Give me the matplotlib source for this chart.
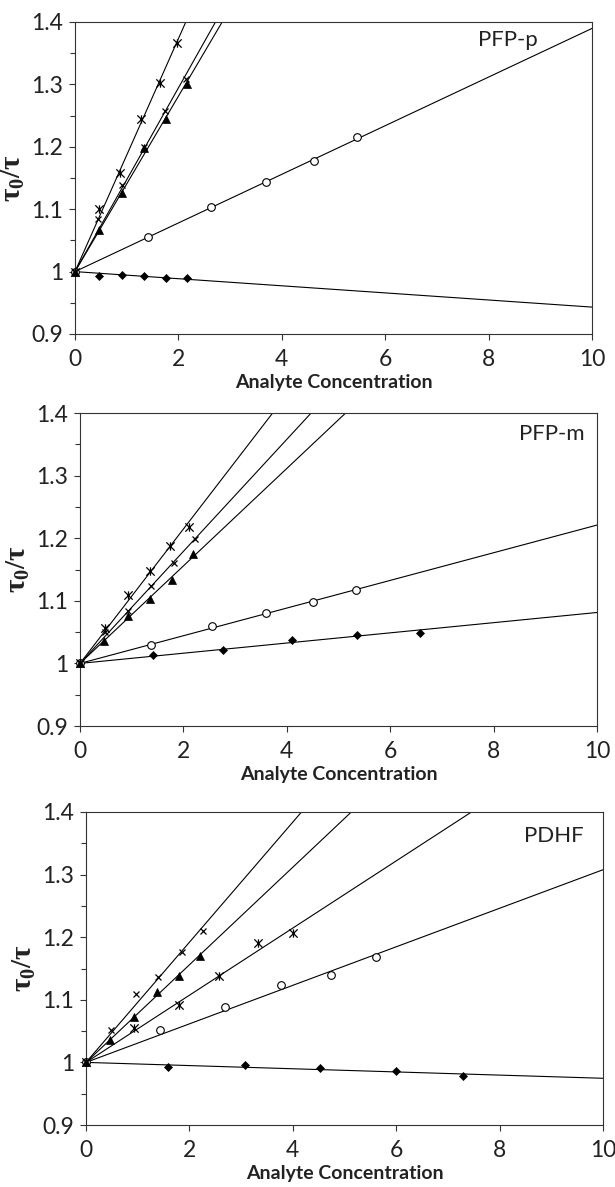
import numpy as np
import matplotlib.pyplot as plt
from matplotlib.path import Path
from matplotlib.ticker import MultipleLocator, FuncFormatter

plt.rcParams['font.family'] = ['Lato', 'DejaVu Sans']
plt.rcParams['mathtext.fontset'] = 'custom'
plt.rcParams['mathtext.rm'] = 'Liberation Serif'
plt.rcParams['mathtext.bf'] = 'Liberation Serif:bold'

# ---- data (x = analyte concentration, y = tau0/tau)
# PFP-p
pfpp_diamond_x = [0, 0.47, 0.91, 1.34, 1.76, 2.16]
pfpp_diamond_y = [1, 0.993, 0.995, 0.993, 0.989, 0.989]
pfpp_circle_x = [0, 1.41, 2.63, 3.69, 4.62, 5.45]
pfpp_circle_y = [1, 1.056, 1.103, 1.143, 1.177, 1.215]
pfpp_triangle_x = [0, 0.47, 0.91, 1.34, 1.76, 2.16]
pfpp_triangle_y = [1, 1.066, 1.126, 1.198, 1.244, 1.301]
pfpp_cross_x = [0, 0.45, 0.91, 1.34, 1.75, 2.15]
pfpp_cross_y = [1, 1.084, 1.138, 1.200, 1.258, 1.309]
pfpp_star_x = [0, 0.47, 0.87, 1.27, 1.64, 1.98]
pfpp_star_y = [1, 1.100, 1.158, 1.245, 1.303, 1.366]

# PFP-m
pfpm_diamond_x = [0, 1.42, 2.77, 4.10, 5.36, 6.58]
pfpm_diamond_y = [1, 1.013, 1.021, 1.038, 1.046, 1.049]
pfpm_circle_x = [0, 1.37, 2.56, 3.60, 4.51, 5.34]
pfpm_circle_y = [1, 1.030, 1.059, 1.080, 1.098, 1.118]
pfpm_triangle_x = [0, 0.47, 0.92, 1.35, 1.78, 2.19]
pfpm_triangle_y = [1, 1.036, 1.075, 1.103, 1.133, 1.175]
pfpm_cross_x = [0, 0.48, 0.93, 1.37, 1.82, 2.22]
pfpm_cross_y = [1, 1.050, 1.084, 1.123, 1.161, 1.198]
pfpm_star_x = [0, 0.48, 0.93, 1.35, 1.75, 2.10]
pfpm_star_y = [1, 1.057, 1.109, 1.148, 1.188, 1.218]

# PDHF
pdhf_diamond_x = [0, 1.59, 3.08, 4.53, 5.99, 7.29]
pdhf_diamond_y = [1, 0.993, 0.996, 0.991, 0.986, 0.978]
pdhf_circle_x = [0, 1.44, 2.69, 3.77, 4.74, 5.61]
pdhf_circle_y = [1, 1.052, 1.089, 1.123, 1.140, 1.168]
pdhf_triangle_x = [0, 0.46, 0.93, 1.37, 1.79, 2.21]
pdhf_triangle_y = [1, 1.036, 1.073, 1.112, 1.138, 1.170]
pdhf_cross_x = [0, 0.48, 0.97, 1.40, 1.85, 2.27]
pdhf_cross_y = [1, 1.052, 1.109, 1.136, 1.176, 1.210]
pdhf_star_x = [0, 0.93, 1.79, 2.58, 3.33, 4.01]
pdhf_star_y = [1, 1.055, 1.091, 1.138, 1.190, 1.207]

panel_names = ['PFP-p', 'PFP-m', 'PDHF']

# excel style "star" marker: an x with a vertical bar through it
star = Path([(-1, -1), (1, 1), (-1, 1), (1, -1), (0, -1), (0, 1)],
            [Path.MOVETO, Path.LINETO, Path.MOVETO, Path.LINETO, Path.MOVETO, Path.LINETO])

styles = {
    'diamond': dict(marker='D', ms=4.5, mfc='k', mec='k', mew=0.5),
    'circle': dict(marker='o', ms=5.5, mfc='white', mec='k', mew=0.8),
    'triangle': dict(marker='^', ms=6, mfc='k', mec='k', mew=0.5),
    'cross': dict(marker='x', ms=5, mec='k', mew=0.9),
    'star': dict(marker=star, ms=6, mec='k', mew=0.9),
}

panels = [
    [('diamond', pfpp_diamond_x, pfpp_diamond_y), ('circle', pfpp_circle_x, pfpp_circle_y),
     ('triangle', pfpp_triangle_x, pfpp_triangle_y), ('cross', pfpp_cross_x, pfpp_cross_y),
     ('star', pfpp_star_x, pfpp_star_y)],
    [('diamond', pfpm_diamond_x, pfpm_diamond_y), ('circle', pfpm_circle_x, pfpm_circle_y),
     ('triangle', pfpm_triangle_x, pfpm_triangle_y), ('cross', pfpm_cross_x, pfpm_cross_y),
     ('star', pfpm_star_x, pfpm_star_y)],
    [('diamond', pdhf_diamond_x, pdhf_diamond_y), ('circle', pdhf_circle_x, pdhf_circle_y),
     ('triangle', pdhf_triangle_x, pdhf_triangle_y), ('cross', pdhf_cross_x, pdhf_cross_y),
     ('star', pdhf_star_x, pdhf_star_y)],
]

# axes boxes in pixels (left, top, right, bottom) of the 615x1187 image
boxes = [(75, 22, 592, 334), (80, 413, 597, 726), (86, 812, 603, 1125)]
name_pos = [(0.8955, 0.974), (0.977, 0.965), (0.963, 0.955)]

W, H = 615, 1187
fig = plt.figure(figsize=(W / 100, H / 100), dpi=100)

for series, box, name, npos in zip(panels, boxes, panel_names, name_pos):
    l, t, r, b = box
    ax = fig.add_axes([l / W, 1 - b / H, (r - l) / W, (b - t) / H])

    for kind, xs, ys in series:
        xs = np.array(xs)
        ys = np.array(ys)
        # linear trendline forced through (0, 1)
        slope = np.sum(xs * (ys - 1)) / np.sum(xs ** 2)
        line_x = np.array([0, 10])
        ax.plot(line_x, 1 + slope * line_x, color='k', lw=0.8, zorder=2)
        ax.plot(xs, ys, ls='none', zorder=3, clip_on=False, **styles[kind])

    ax.set_xlim(0, 10)
    ax.set_ylim(0.9, 1.4)
    ax.xaxis.set_major_locator(MultipleLocator(2))
    ax.yaxis.set_major_locator(MultipleLocator(0.1))
    ax.yaxis.set_minor_locator(MultipleLocator(0.05))
    ax.yaxis.set_major_formatter(FuncFormatter(lambda v, _: f'{v:g}'))
    ax.tick_params(which='major', direction='out', length=4.5, width=0.8,
                   color='#333333', labelsize=16.5, labelcolor='#222222', pad=4)
    ax.tick_params(axis='x', which='major', pad=6)
    ax.tick_params(which='minor', direction='out', length=3.5, width=0.8, color='#333333')
    for sp in ax.spines.values():
        sp.set_color('#333333')
        sp.set_linewidth(0.8)

    ax.set_xlabel('Analyte Concentration', fontsize=14, fontweight='bold',
                  color='#222222', labelpad=3.5)
    ax.set_ylabel(r'$\mathbf{\tau_0/\tau}$', fontsize=21, color='#222222', labelpad=3)
    ax.text(npos[0], npos[1], name, transform=ax.transAxes, ha='right', va='top',
            fontsize=16, color='#222222')

fig.savefig('out.png', dpi=100)
